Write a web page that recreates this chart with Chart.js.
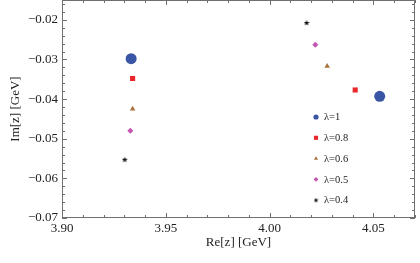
<!DOCTYPE html>
<html>
<head>
<meta charset="utf-8">
<script src="https://cdn.jsdelivr.net/npm/chart.js@4.4.1/dist/chart.umd.min.js"></script>
<style>
  html, body { margin: 0; padding: 0; background: #fff; }
</style>
</head>
<body>
<canvas id="myChart" width="420" height="263"></canvas>
<script>
// Data: two poles per lambda value
var lambdas = ["λ=1", "λ=0.8", "λ=0.6", "λ=0.5", "λ=0.4"];
var reLeft  = [3.9333, 3.9340, 3.9340, 3.9329, 3.9302];
var imLeft  = [-0.0298, -0.0348, -0.0425, -0.0480, -0.0553];
var reRight = [4.0530, 4.0412, 4.0277, 4.0220, 4.0178];
var imRight = [-0.0393, -0.0377, -0.0317, -0.0263, -0.0208];

var xTicks = [3.90, 3.95, 4.00, 4.05];
var yTicks = [-0.07, -0.06, -0.05, -0.04, -0.03, -0.02];

var colors = ["#3a55a5", "#e8262b", "#a8733c", "#c555b1", "#111111"];

// filled five-point star like Mathematica's
function makeStar(size, color) {
    var c = document.createElement("canvas");
    c.width = size; c.height = size;
    var g = c.getContext("2d");
    var cx = size / 2, cy = size / 2, ro = size / 2, ri = ro * 0.45;
    g.beginPath();
    for (var i = 0; i < 10; i++) {
        var r = i % 2 === 0 ? ro : ri;
        var a = -Math.PI / 2 + i * Math.PI / 5;
        g.lineTo(cx + r * Math.cos(a), cy + r * Math.sin(a));
    }
    g.closePath();
    g.fillStyle = color;
    g.fill();
    return c;
}

var styles = ["circle", "rect", "triangle", "rectRot", makeStar(6, colors[4])];
var radii = [5.5, 3.6, 3.2, 3.0, 3];
var legendStyles = ["circle", "rect", "triangle", "rectRot", makeStar(5, colors[4])];
var legendRadii = [2.6, 2.9, 2.4, 2.4, 3];

var datasets = [];
for (var i = 0; i < lambdas.length; i++) {
    datasets.push({
        label: lambdas[i],
        data: [{ x: reLeft[i], y: imLeft[i] }, { x: reRight[i], y: imRight[i] }],
        pointStyle: styles[i],
        pointRadius: radii[i],
        pointHoverRadius: radii[i],
        backgroundColor: colors[i],
        borderColor: colors[i],
        borderWidth: 0
    });
}

var frameColor = "#707070";

// frame plus inward major/minor ticks on all four sides
var framePlugin = {
    id: "frame",
    beforeDatasetsDraw: function(chart) {
        var ctx = chart.ctx, a = chart.chartArea;
        var xs = chart.scales.x, ys = chart.scales.y;
        ctx.save();
        ctx.strokeStyle = frameColor;
        ctx.lineWidth = 1;
        ctx.beginPath();
        for (var i = 0; i <= 17; i++) {
            var v = 3.90 + i * 0.01;
            var px = Math.round(xs.getPixelForValue(v)) + 0.5;
            var len = i % 5 === 0 ? 5 : 3;
            ctx.moveTo(px, a.bottom); ctx.lineTo(px, a.bottom - len);
            ctx.moveTo(px, a.top); ctx.lineTo(px, a.top + len);
        }
        for (var j = 0; j <= 27; j++) {
            var w = -0.07 + j * 0.002;
            var py = Math.round(ys.getPixelForValue(w)) + 0.5;
            var l2 = j % 5 === 0 ? 5 : 3;
            ctx.moveTo(a.left, py); ctx.lineTo(a.left + l2, py);
            ctx.moveTo(a.right, py); ctx.lineTo(a.right - l2, py);
        }
        ctx.stroke();
        ctx.strokeRect(Math.round(a.left) + 0.5, Math.round(a.top) + 0.5,
            Math.round(a.right - a.left) - 1, Math.round(a.bottom - a.top) - 1);
        ctx.restore();
    }
};

// legend inside the plot, lower right
var legendPlugin = {
    id: "innerLegend",
    afterDatasetsDraw: function(chart) {
        var ctx = chart.ctx;
        var x0 = 316, y0 = 117, dy = 20.8;
        ctx.save();
        ctx.font = "10.5px 'Liberation Serif', serif";
        ctx.textBaseline = "middle";
        for (var i = 0; i < lambdas.length; i++) {
            var y = y0 + i * dy;
            ctx.fillStyle = colors[i];
            ctx.strokeStyle = colors[i];
            Chart.helpers.drawPoint(ctx, {
                pointStyle: legendStyles[i],
                radius: legendRadii[i],
                rotation: 0,
                borderWidth: 0
            }, x0, y);
            ctx.fillStyle = "#222";
            ctx.fillText(lambdas[i], x0 + 8, y + 0.5);
        }
        ctx.restore();
    }
};

var serif = "'Liberation Serif', 'DejaVu Serif', serif";

function noPad(scale) {
    scale.paddingTop = 0;
    scale.paddingBottom = 0;
    scale.paddingLeft = 0;
    scale.paddingRight = 0;
}

var ctx = document.getElementById("myChart").getContext("2d");
var chart = new Chart(ctx, {
    type: "scatter",
    data: { datasets: datasets },
    options: {
        responsive: false,
        animation: false,
        layout: { autoPadding: false, padding: { top: 0, right: 5, left: 0, bottom: 0 } },
        plugins: {
            legend: { display: false },
            tooltip: { enabled: false }
        },
        scales: {
            x: {
                type: "linear",
                min: 3.90,
                max: 4.07,
                grid: { display: false, drawTicks: false },
                border: { display: false },
                afterBuildTicks: function(scale) {
                    scale.ticks = xTicks.map(function(v) { return { value: v }; });
                },
                afterFit: function(scale) { scale.height = 45; noPad(scale); },
                ticks: {
                    padding: 3,
                    color: "#222",
                    maxRotation: 0,
                    font: { family: serif, size: 13 },
                    callback: function(v) { return v.toFixed(2); }
                },
                title: {
                    display: true,
                    text: "Re[z] [GeV]",
                    color: "#222",
                    font: { family: serif, size: 13 },
                    padding: { top: 2, bottom: 13 }
                }
            },
            y: {
                type: "linear",
                min: -0.07,
                max: -0.015,
                grid: { display: false, drawTicks: false },
                border: { display: false },
                afterBuildTicks: function(scale) {
                    scale.ticks = yTicks.map(function(v) { return { value: v }; });
                },
                afterFit: function(scale) { scale.width = 62; noPad(scale); },
                ticks: {
                    padding: 4,
                    color: "#222",
                    font: { family: serif, size: 13 },
                    callback: function(v) { return "\u2212" + Math.abs(v).toFixed(2); }
                },
                title: {
                    display: true,
                    text: "Im[z] [GeV]",
                    color: "#222",
                    font: { family: serif, size: 13 },
                    padding: { top: 8, bottom: 0 }
                }
            }
        }
    },
    plugins: [framePlugin, legendPlugin]
});
</script>
</body>
</html>
